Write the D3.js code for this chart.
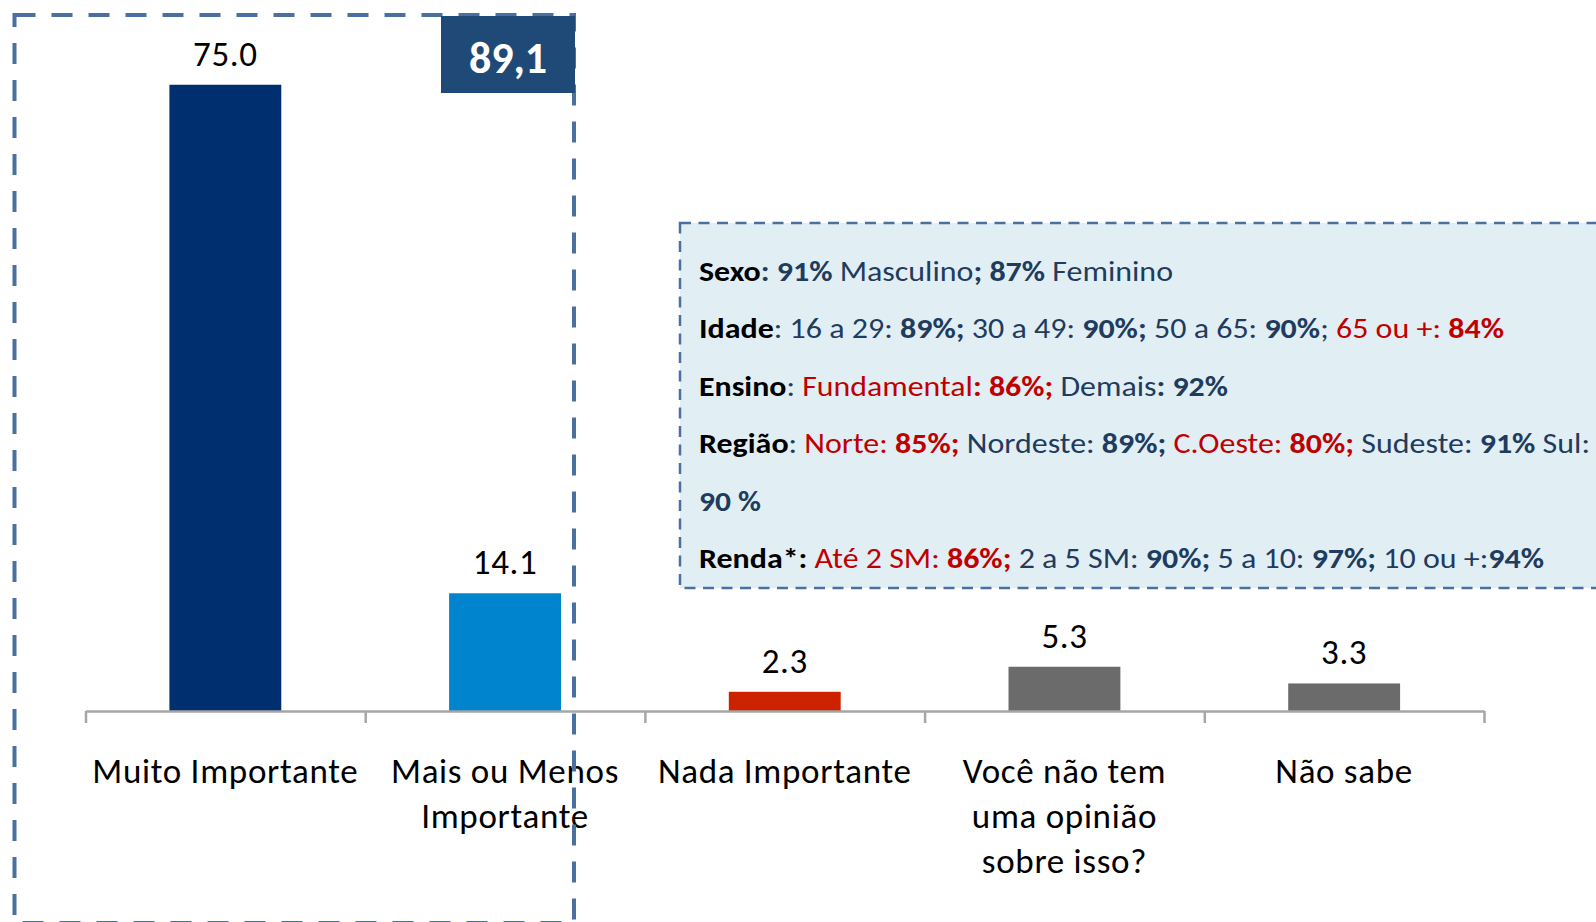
<!DOCTYPE html>
<html>
<head>
<meta charset="utf-8">
<script src="https://cdn.jsdelivr.net/npm/d3@7"></script>
<style>
  body { margin: 0; background: #fff; }
  svg { display: block; font-family: Carlito, Lato, sans-serif; }
</style>
</head>
<body>
<div id="vis-main"></div>
<script>

/* Data */
/* ---- */

var categories = ['Muito Importante', 'Mais ou Menos Importante', 'Nada Importante', 'Você não tem uma opinião sobre isso?', 'Não sabe'];
var categoryLines = [['Muito Importante'], ['Mais ou Menos', 'Importante'], ['Nada Importante'], ['Você não tem', 'uma opinião', 'sobre isso?'], ['Não sabe']];
var values = [75.0, 14.1, 2.3, 5.3, 3.3];
var totalLabel = '89,1';

// segments: [text, kind]  kind = label | text | bold | red | redBold
var infoSexo = [['Sexo', 'label'], [': ', 'bold'], ['91%', 'bold'], [' Masculino', 'text'], ['; ', 'bold'], ['87%', 'bold'], [' Feminino', 'text']];
var infoIdade = [['Idade', 'label'], [': 16 a 29: ', 'text'], ['89%;', 'bold'], [' 30 a 49: ', 'text'], ['90%;', 'bold'], [' 50 a 65: ', 'text'], ['90%', 'bold'], ['; ', 'text'], ['65 ou +: ', 'red'], ['84%', 'redBold']];
var infoEnsino = [['Ensino', 'label'], [': ', 'text'], ['Fundamental', 'red'], [': 86%;', 'redBold'], [' Demais', 'text'], [': 92%', 'bold']];
var infoRegiao = [['Região', 'label'], [': ', 'text'], ['Norte: ', 'red'], ['85%;', 'redBold'], [' Nordeste: ', 'text'], ['89%;', 'bold'], [' C.Oeste: ', 'red'], ['80%;', 'redBold'], [' Sudeste: ', 'text'], ['91%', 'bold'], [' Sul:', 'text']];
var infoRegiao2 = [['90 %', 'bold']];
var infoRenda = [['Renda*:', 'label'], [' Até 2 SM: ', 'red'], ['86%;', 'redBold'], [' 2 a 5 SM: ', 'text'], ['90%;', 'bold'], [' 5 a 10: ', 'text'], ['97%;', 'bold'], [' 10 ou +:', 'text'], ['94%', 'bold']];
var infoLines = [infoSexo, infoIdade, infoEnsino, infoRegiao, infoRegiao2, infoRenda];


/* Styles */
/* ------ */

var barColours = ['#002F6F', '#0084CD', '#CC2200', '#6B6B6B', '#6B6B6B'];
var kindStyle = {
  label:   { fill: '#000000', weight: 'bold' },
  text:    { fill: '#1F3B5E', weight: 'normal' },
  bold:    { fill: '#1F3B5E', weight: 'bold' },
  red:     { fill: '#C00000', weight: 'normal' },
  redBold: { fill: '#C00000', weight: 'bold' }
};
var infoWidths = [474, 805, 529, 891, 62, 845];


/* Chart */
/* ----- */

var width = 1596, height = 922;

var svg = d3.select('#vis-main')
  .append('svg')
    .attr('width', width)
    .attr('height', height);

var x = d3.scaleBand()
    .domain(categories)
    .range([85.5, 1484])
    .paddingInner(0.6)
    .paddingOuter(0.3);

var y = d3.scaleLinear()
    .domain([0, 80])
    .range([711, 43]);

// info box (behind)
var info = svg.append('g').attr('class', 'info-g');

info.append('rect')
    .attr('x', 680)
    .attr('y', 223)
    .attr('width', 1000)
    .attr('height', 365)
    .attr('fill', '#E1EFF5')
    .attr('stroke', '#4A70A0')
    .attr('stroke-width', 2.5)
    .attr('stroke-dasharray', '11,7.5');

info.selectAll('text.info-line')
    .data(infoLines)
  .enter().append('text')
    .attr('class', 'info-line')
    .attr('x', 699)
    .attr('y', function(d, i) { return 281 + i * 57.4; })
    .attr('font-size', 29)
    .attr('textLength', function(d, i) { return infoWidths[i]; })
    .attr('lengthAdjust', 'spacingAndGlyphs')
    .style('white-space', 'pre')
    .each(function(line) {
      d3.select(this).selectAll('tspan')
          .data(line)
        .enter().append('tspan')
          .attr('fill', function(s) { return kindStyle[s[1]].fill; })
          .attr('font-weight', function(s) { return kindStyle[s[1]].weight; })
          .text(function(s) { return s[0]; });
    });

// bars
svg.append('g').attr('class', 'bars-g')
  .selectAll('rect')
    .data(values)
  .enter().append('rect')
    .attr('x', function(d, i) { return x(categories[i]); })
    .attr('y', function(d) { return y(d); })
    .attr('width', x.bandwidth())
    .attr('height', function(d) { return y(0) - y(d); })
    .attr('fill', function(d, i) { return barColours[i]; });

// value labels
svg.append('g').attr('class', 'values-g')
  .selectAll('text')
    .data(values)
  .enter().append('text')
    .attr('x', function(d, i) { return x(categories[i]) + x.bandwidth() / 2; })
    .attr('y', function(d) { return y(d) - 19; })
    .attr('text-anchor', 'middle')
    .attr('font-size', 35)
    .attr('letter-spacing', 0.6)
    .attr('fill', '#000')
    .text(function(d) { return d.toFixed(1); });

// axis: ticks at band edges
var edges = d3.scaleLinear().domain([0, categories.length]).range(x.range());

var axis = svg.append('g')
    .attr('transform', 'translate(0,' + y(0) + ')')
    .call(d3.axisBottom(edges)
      .tickValues(d3.range(categories.length + 1))
      .tickSize(12)
      .tickSizeOuter(0)
      .tickFormat(''));

axis.selectAll('path, line')
    .attr('stroke', '#A6A6A6')
    .attr('stroke-width', 2.5);

// category labels
svg.append('g').attr('class', 'cats-g')
  .selectAll('text')
    .data(categoryLines)
  .enter().append('text')
    .attr('x', function(d, i) { return x(categories[i]) + x.bandwidth() / 2; })
    .attr('y', 783)
    .attr('text-anchor', 'middle')
    .attr('font-size', 35)
    .attr('letter-spacing', 0.7)
    .attr('fill', '#000')
  .selectAll('tspan')
    .data(function(d) { return d; })
  .enter().append('tspan')
    .attr('x', function() { return d3.select(this.parentNode).attr('x'); })
    .attr('dy', function(d, i) { return i ? 45 : 0; })
    .text(function(d) { return d; });

// dashed highlight around first two bars
svg.append('rect')
    .attr('x', 14.5)
    .attr('y', 15)
    .attr('width', 559.5)
    .attr('height', 908)
    .attr('fill', 'none')
    .attr('stroke', '#4A70A0')
    .attr('stroke-width', 4)
    .attr('stroke-dasharray', '21,16');

// total box
var total = svg.append('g').attr('class', 'total-g');

total.append('rect')
    .attr('x', 441)
    .attr('y', 16)
    .attr('width', 134)
    .attr('height', 77)
    .attr('fill', '#1F4A77');

total.append('text')
    .attr('x', 508)
    .attr('y', 73)
    .attr('text-anchor', 'middle')
    .attr('font-size', 44)
    .attr('font-weight', 'bold')
    .attr('fill', '#fff')
    .text(totalLabel);

</script>
</body>
</html>
